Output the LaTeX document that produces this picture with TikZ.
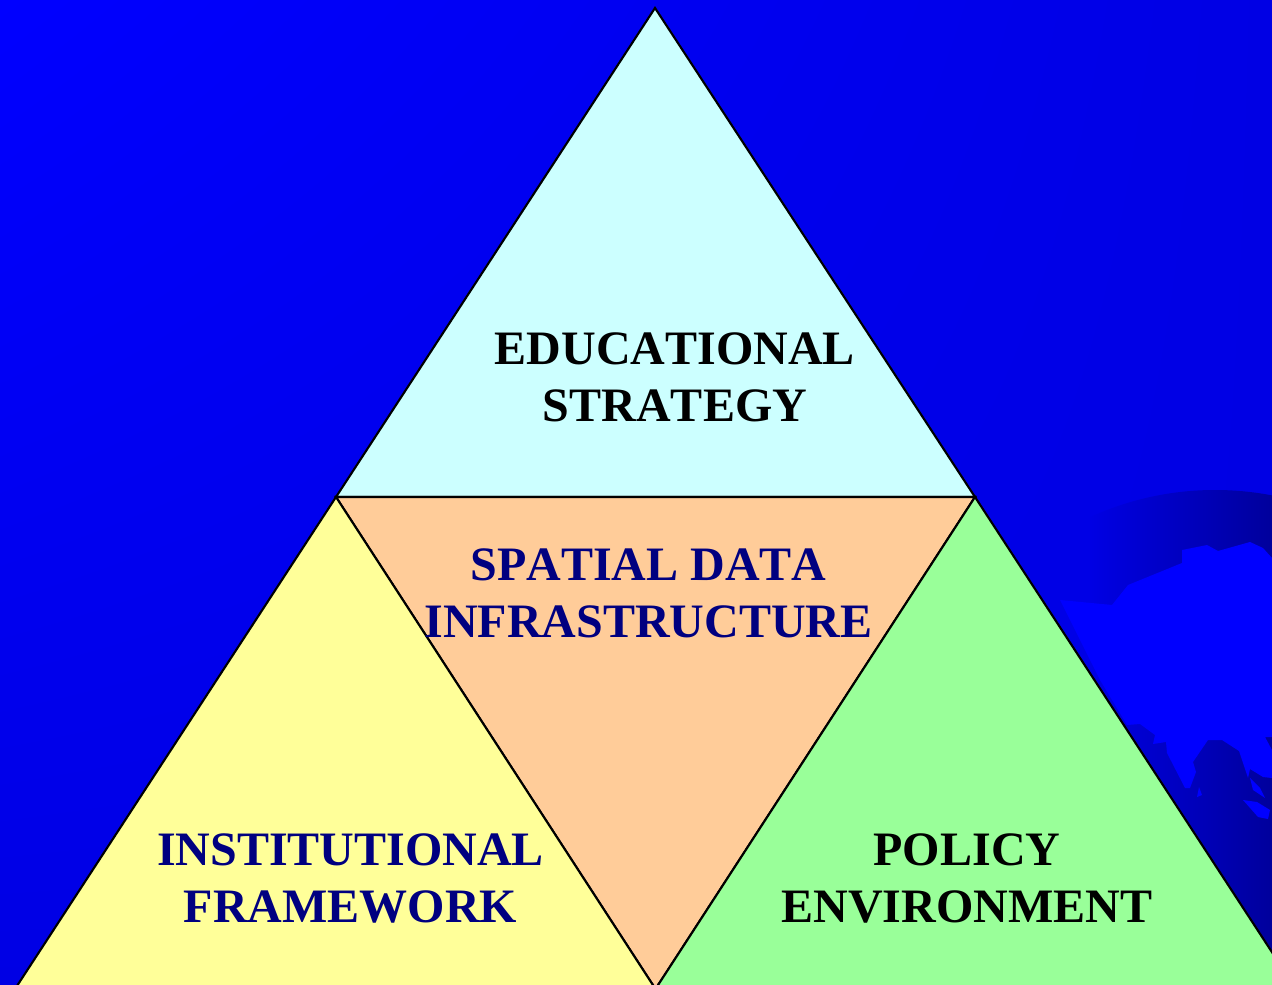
\documentclass[tikz,border=0pt]{standalone}
\usepackage{fontspec}
\setmainfont[Kerning=Off]{Liberation Serif}
\usepackage{xcolor}
\usetikzlibrary{shadings}
\definecolor{backblue}{HTML}{0000FF}
\definecolor{backdark}{HTML}{0000E4}
\definecolor{globeblue}{HTML}{00009C}
\definecolor{topcyan}{HTML}{CCFFFF}
\definecolor{midorange}{HTML}{FFCC99}
\definecolor{leftyellow}{HTML}{FFFF99}
\definecolor{rightgreen}{HTML}{99FF99}
\definecolor{labelnavy}{HTML}{000080}
\tikzset{
  panel/.style={draw=black,line width=0.6pt,line join=miter},
  lab/.style={align=center,inner sep=0pt,font=\fontsize{13.65}{16.2}\selectfont\bfseries},
}

\begin{document}
\begin{tikzpicture}[x=0.01cm,y=-0.01cm]
    \useasboundingbox (0,0) rectangle (1272,985);
    \clip (0,0) rectangle (1272,985);
    \shade[upper left=backblue,upper right=backdark,lower left=backdark,lower right=backdark] (0,0) rectangle (1272,985);
    % globe behind the triangle
    \begin{scope}
      \clip (1215,790) circle (300);
      \shade[left color=backdark,right color=globeblue] (1090,480) rectangle (1272,985);
    \end{scope}
    % land
    \fill[backblue] (1182,550) -- (1207,545) -- (1218,551) -- (1250,542) -- (1263,548) -- (1272,558)
      -- (1272,737) -- (1265,737) -- (1272,750) -- (1272,778) -- (1263,777) -- (1250,769) -- (1248,778)
      -- (1239,751) -- (1222,740) -- (1208,740) -- (1193,762) -- (1196,772) -- (1190,788) -- (1185,788)
      -- (1167,753) -- (1166,742) -- (1153,744) -- (1155,735) -- (1140,724) -- (1127,725) -- (1100,680)
      -- (1060,600) -- (1112,605) -- (1128,585) -- (1182,563) -- cycle;
    \fill[backblue] (1199,787) -- (1202,795) -- (1197,797) -- cycle;
    \fill[backblue] (1243,800) -- (1257,802) -- (1270,810) -- (1268,819) -- (1258,817) -- cycle;
    \fill[backblue] (1250,778) -- (1260,788) -- (1265,798) -- (1253,790) -- cycle;
    % the four triangles
    \coordinate (apex) at (655,8);
    \coordinate (midl) at (336,497);
    \coordinate (midr) at (975,497);
    \coordinate (base) at (655.5,989);
    \coordinate (cornl) at (15,989);
    \coordinate (cornr) at (1296,989);
    \draw[panel,fill=topcyan] (apex) -- (midr) -- (midl) -- cycle;
    \draw[panel,fill=midorange] (midl) -- (midr) -- (base) -- cycle;
    \draw[panel,fill=leftyellow] (midl) -- (base) -- (cornl) -- cycle;
    \draw[panel,fill=rightgreen] (midr) -- (cornr) -- (base) -- cycle;
    \node[lab,text=black] (edu) at (675,377) {EDUCATIONAL\\STRATEGY};
    \node[lab,text=labelnavy] (sdi) at (648.5,593) {SPATIAL DATA\\INFRASTRUCTURE};
    \node[lab,text=labelnavy] (inst) at (350.5,878.2) {INSTITUTIONAL\\FRAMEWORK};
    \node[lab,text=black] (pol) at (967,878.2) {POLICY\\ENVIRONMENT};
\end{tikzpicture}
\end{document}
